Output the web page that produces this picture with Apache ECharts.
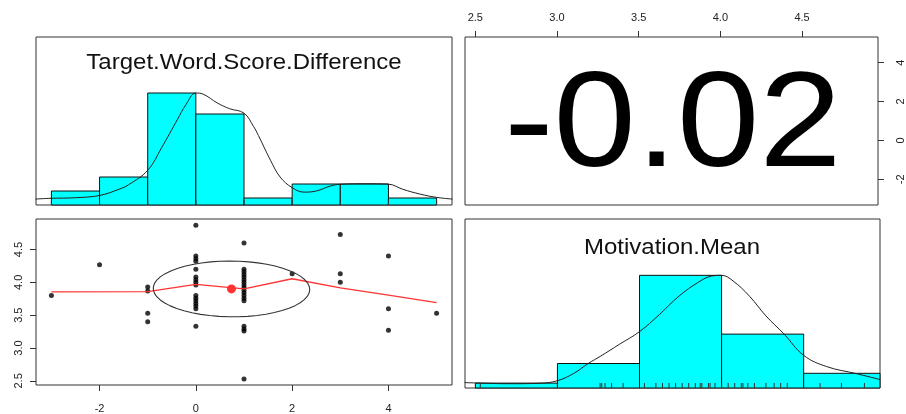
<!DOCTYPE html>
<html><head><meta charset="utf-8">
<script src="https://cdn.jsdelivr.net/npm/echarts@6/dist/echarts.min.js"></script>
<style>html,body{margin:0;padding:0;background:#fff}#c{width:906px;height:414px}</style>
</head><body><div id="c"></div>
<script>
// ---- data ----
const varNames = ['Target.Word.Score.Difference', 'Motivation.Mean'];
const corrLabel = '-0.02';

// histogram of Target.Word.Score.Difference
const twBreaks = [-3, -2, -1, 0, 1, 2, 3, 4, 5];
const twCounts = [2, 4, 16, 13, 1, 3, 3, 1];
// histogram of Motivation.Mean
const motBreaks = [2.5, 3.0, 3.5, 4.0, 4.5, 5.0];
const motCounts = [1, 5, 23, 11, 3];

// scaled density curves (max = 1)
const twDensX = [-3.33, -3.0, -2.5, -2.0, -1.6, -1.4, -1.0, -0.7, -0.4, -0.2, 0.0, 0.15, 0.45, 0.7, 1.0, 1.2, 1.3, 1.55, 1.75, 2.0, 2.25, 2.5, 2.8, 3.0, 3.5, 4.0, 4.3, 4.65, 5.0, 5.33];
const twDensY = [0.053, 0.06, 0.065, 0.085, 0.14, 0.18, 0.31, 0.52, 0.75, 0.9, 1.0, 0.99, 0.91, 0.86, 0.82, 0.70, 0.62, 0.40, 0.25, 0.155, 0.115, 0.125, 0.17, 0.185, 0.19, 0.186, 0.14, 0.098, 0.068, 0.053];
const motDensX = [2.435, 2.5, 2.71, 2.89, 3.0, 3.1, 3.19, 3.26, 3.38, 3.5, 3.62, 3.74, 3.86, 3.94, 4.0, 4.07, 4.17, 4.27, 4.38, 4.5, 4.64, 4.82, 4.965];
const motDensY = [0.048, 0.045, 0.038, 0.042, 0.065, 0.13, 0.22, 0.28, 0.39, 0.50, 0.65, 0.815, 0.94, 0.994, 1.0, 0.95, 0.815, 0.64, 0.48, 0.29, 0.19, 0.128, 0.075];

// scatter: Target.Word.Score.Difference (x) vs Motivation.Mean (y)
const scatX = [-3, -2, -1, -1, -1, -1,
  0, 0, 0, 0, 0, 0, 0, 0, 0, 0, 0, 0, 0, 0, 0, 0,
  1, 1, 1, 1, 1, 1, 1, 1, 1, 1, 1, 1, 1, 1, 1, 1, 1, 1,
  2, 3, 3, 3, 4, 4, 4, 5];
const scatY = [3.80, 4.27, 3.93, 3.87, 3.53, 3.40,
  4.87, 4.40, 4.36, 4.32, 4.20, 4.08, 4.04, 4.00, 3.96, 3.80, 3.76, 3.72, 3.68, 3.64, 3.60, 3.33,
  4.60, 4.20, 4.16, 4.12, 4.08, 4.04, 4.00, 3.96, 3.92, 3.88, 3.84, 3.80, 3.76, 3.72, 3.33, 3.29, 3.26, 2.53,
  4.13, 4.73, 4.13, 4.00, 4.40, 3.60, 3.27, 3.53];

// loess smoother
const loessX = [-3, -1, 0, 1, 2, 3, 4, 5];
const loessY = [3.856, 3.86, 3.97, 3.90, 4.055, 3.915, 3.805, 3.69];

// means, sds and correlation for the ellipse
const meanX = 0.74, meanY = 3.90, sdX = 1.625, sdY = 0.425, rXY = -0.02;

// tick labels
const twTicks = [-2, 0, 2, 4];
const motTicks = [2.5, 3.0, 3.5, 4.0, 4.5];

// ---- chart ----
const FONT = '"Liberation Sans", Arial, Helvetica, sans-serif';
const twRange = [-3.32, 5.32];
const motRange = [2.437, 4.965];

function histSeries(xi, yi, breaks, counts) {
  const maxC = Math.max(...counts);
  const data = counts.map((c, i) => [breaks[i], breaks[i + 1], c / maxC]);
  return {
    type: 'custom', xAxisIndex: xi, yAxisIndex: yi, data: data, silent: true,
    encode: { x: [0, 1], y: 2 },
    renderItem: function (params, api) {
      const cs = params.coordSys;
      const p0 = api.coord([api.value(0), 0]);
      const p1 = api.coord([api.value(1), api.value(2)]);
      const x0 = Math.max(p0[0], cs.x), x1 = Math.min(p1[0], cs.x + cs.width);
      return { type: 'rect', shape: { x: x0, y: p1[1], width: x1 - x0, height: p0[1] - p1[1] },
        style: { fill: '#00ffff', stroke: '#111', lineWidth: 1 } };
    }
  };
}
function rugSeries(xi, yi, vals) {
  const uniq = Array.from(new Set(vals));
  return {
    type: 'custom', xAxisIndex: xi, yAxisIndex: yi, data: uniq.map(v => [v, 0]), silent: true,
    renderItem: function (params, api) {
      const p = api.coord([api.value(0), 0]);
      return { type: 'line', shape: { x1: p[0], y1: p[1], x2: p[0], y2: p[1] - 5 },
        style: { stroke: '#333', lineWidth: 1 } };
    }
  };
}
function ellipsePoints() {
  const seg = 51, pts = [];
  const th = (Math.abs(rXY) > 0 ? Math.sign(rXY) : 1) / Math.SQRT2;
  const a = Math.sqrt(1 + rXY), b = Math.sqrt(1 - rXY);
  for (let i = 0; i <= seg; i++) {
    const ang = i * 2 * Math.PI / seg, c = Math.cos(ang), s = Math.sin(ang);
    const ex = c * a * th + s * (-b * th);
    const ey = c * a * th + s * (b * th);
    pts.push([ex * sdX + meanX, ey * sdY + meanY]);
  }
  return pts;
}
const zip = (xs, ys) => xs.map((x, i) => [x, ys[i]]);

const labelStyle = { fontFamily: FONT, fontSize: 11, color: '#222' };
const tickStyle = { lineStyle: { color: '#333', width: 1 }, length: 6 };
const gridStyle = { show: true, borderColor: '#333', borderWidth: 1, backgroundColor: 'transparent' };
const noLine = { show: false, onZero: false };

const chart = echarts.init(document.getElementById('c'), null, { renderer: 'canvas' });
chart.setOption({
  backgroundColor: '#fff',
  animation: false,
  grid: [
    Object.assign({ left: 36, top: 37, width: 416, height: 168 }, gridStyle),
    Object.assign({ left: 465, top: 37, width: 415, height: 168 }, gridStyle),
    Object.assign({ left: 36, top: 219, width: 416, height: 169 }, gridStyle),
    Object.assign({ left: 465, top: 219, width: 415, height: 169 }, gridStyle)
  ],
  xAxis: [
    { gridIndex: 0, type: 'value', min: twRange[0], max: twRange[1], show: false },
    { gridIndex: 1, type: 'value', min: motRange[0], max: motRange[1], position: 'top',
      axisLine: noLine, splitLine: { show: false },
      axisTick: Object.assign({ show: true, customValues: motTicks }, tickStyle),
      axisLabel: Object.assign({ customValues: motTicks, margin: 14, formatter: v => v.toFixed(1) }, labelStyle) },
    { gridIndex: 2, type: 'value', min: twRange[0], max: twRange[1], position: 'bottom',
      axisLine: noLine, splitLine: { show: false },
      axisTick: Object.assign({ show: true, customValues: twTicks }, tickStyle),
      axisLabel: Object.assign({ customValues: twTicks, margin: 18, formatter: v => String(v) }, labelStyle) },
    { gridIndex: 3, type: 'value', min: motRange[0], max: motRange[1], show: false }
  ],
  yAxis: [
    { gridIndex: 0, type: 'value', min: 0, max: 1.5, show: false },
    { gridIndex: 1, type: 'value', min: twRange[0], max: twRange[1], position: 'right',
      axisLine: noLine, splitLine: { show: false },
      axisTick: Object.assign({ show: true, customValues: twTicks }, tickStyle),
      axisLabel: Object.assign({ customValues: twTicks, margin: 17, rotate: 90, formatter: v => String(v) }, labelStyle) },
    { gridIndex: 2, type: 'value', min: motRange[0], max: motRange[1], position: 'left',
      axisLine: noLine, splitLine: { show: false },
      axisTick: Object.assign({ show: true, customValues: motTicks }, tickStyle),
      axisLabel: Object.assign({ customValues: motTicks, margin: 12, rotate: 90, formatter: v => v.toFixed(1) }, labelStyle) },
    { gridIndex: 3, type: 'value', min: 0, max: 1.5, show: false }
  ],
  series: [
    histSeries(0, 0, twBreaks, twCounts),
    rugSeries(0, 0, scatX),
    { type: 'line', xAxisIndex: 0, yAxisIndex: 0, data: zip(twDensX, twDensY), smooth: 0.4,
      showSymbol: false, silent: true, lineStyle: { color: '#222', width: 1 } },
    histSeries(3, 3, motBreaks, motCounts),
    rugSeries(3, 3, scatY),
    { type: 'line', xAxisIndex: 3, yAxisIndex: 3, data: zip(motDensX, motDensY), smooth: 0.4,
      showSymbol: false, silent: true, lineStyle: { color: '#222', width: 1 } },
    { type: 'scatter', xAxisIndex: 2, yAxisIndex: 2, data: zip(scatX, scatY), symbolSize: 5,
      itemStyle: { color: '#000' }, silent: true },
    { type: 'line', xAxisIndex: 2, yAxisIndex: 2, data: zip(loessX, loessY), showSymbol: false,
      silent: true, lineStyle: { color: '#ff3333', width: 1.3 } },
    { type: 'line', xAxisIndex: 2, yAxisIndex: 2, data: ellipsePoints(), showSymbol: false,
      silent: true, lineStyle: { color: '#333', width: 1.1 } },
    { type: 'scatter', xAxisIndex: 2, yAxisIndex: 2, data: [[meanX, meanY]], symbolSize: 9,
      itemStyle: { color: '#ff0000' }, silent: true }
  ],
  graphic: [
    { type: 'text', x: 244, y: 63, scaleY: 0.93, style: { text: varNames[0], fontFamily: FONT, fontSize: 24,
      fill: '#111', align: 'center', verticalAlign: 'middle' } },
    { type: 'text', x: 672, y: 248, scaleY: 0.93, style: { text: varNames[1], fontFamily: FONT, fontSize: 24,
      fill: '#111', align: 'center', verticalAlign: 'middle' } },
    { type: 'text', x: 673, y: 129, scaleY: 0.91, style: { text: corrLabel, fontFamily: FONT, fontSize: 148,
      fill: '#000', align: 'center', verticalAlign: 'middle' } }
  ]
});
</script>
</body></html>
